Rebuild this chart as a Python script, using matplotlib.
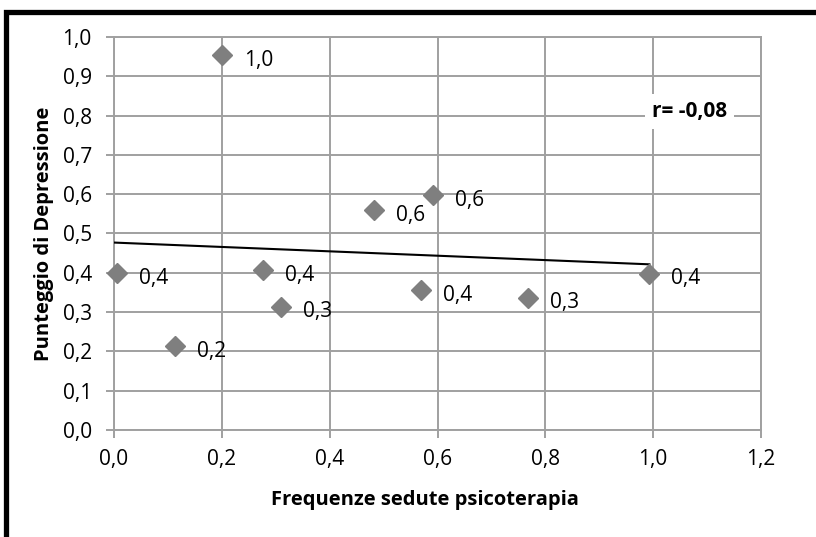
import numpy as np
import matplotlib
matplotlib.use("Agg")
import matplotlib.pyplot as plt
from matplotlib.ticker import FuncFormatter, MultipleLocator
from matplotlib.lines import Line2D

# Data
freq = [0.006, 0.113, 0.201, 0.277, 0.309, 0.482, 0.569, 0.592, 0.767, 0.993]
depr = [0.399, 0.213, 0.954, 0.406, 0.313, 0.559, 0.355, 0.597, 0.336, 0.397]
x_label = "Frequenze sedute psicoterapia"
y_label = "Punteggio di Depressione"
r_text = "r= -0,08"

plt.rcParams['font.family'] = ['Open Sans', 'DejaVu Sans']

W, H = 816, 537
fig = plt.figure(figsize=(W / 100, H / 100), dpi=100)
ax = fig.add_axes([114 / W, 1 - 430 / H, (761 - 114) / W, (430 - 37) / H])

grid_c = '#a0a0a0'
ax.set_xlim(0, 1.2)
ax.set_ylim(0, 1.0)
ax.xaxis.set_major_locator(MultipleLocator(0.2))
ax.yaxis.set_major_locator(MultipleLocator(0.1))
fmt = FuncFormatter(lambda v, p: f"{v:.1f}".replace('.', ','))
ax.xaxis.set_major_formatter(fmt)
ax.yaxis.set_major_formatter(fmt)
ax.grid(True, color=grid_c, linewidth=1.4, zorder=0)
ax.set_axisbelow(True)
for s in ax.spines.values():
    s.set_color(grid_c)
    s.set_linewidth(1.4)
ax.tick_params(axis='both', direction='out', length=6, width=1.4, color=grid_c,
               labelsize=15, labelcolor='black')
ax.tick_params(axis='y', pad=10)
ax.tick_params(axis='x', pad=8)

# trendline
xs = np.array(freq)
ys = np.array(depr)
m, b = np.polyfit(xs, ys, 1)
xl = np.array([0.0, xs.max()])
ax.plot(xl, m * xl + b, color='black', linewidth=1.5, zorder=3)

# points
ax.plot(freq, depr, linestyle='none', marker='D', markersize=10,
        color='#7f7f7f', markeredgecolor='#7f7f7f', zorder=4, clip_on=False)

for x, y in zip(freq, depr):
    ax.annotate(f"{y:.1f}".replace('.', ','), (x, y), xytext=(22, -5),
                textcoords='offset pixels', ha='left', va='center',
                fontsize=15, color='black', zorder=5)

ax.text(1.067, 0.81, r_text, ha='center', va='center', fontsize=15,
        fontweight='bold', zorder=6,
        bbox=dict(facecolor='white', edgecolor='none', pad=5))

ax.set_xlabel(x_label, fontsize=14.5, fontweight='bold')
ax.set_ylabel(y_label, fontsize=14.5, fontweight='bold')
ax.xaxis.set_label_coords((425 - 114) / (761 - 114), -(500 - 430) / (430 - 37))
ax.yaxis.set_label_coords(-(114 - 44) / (761 - 114), 0.5)
ax.xaxis.label.set_va('center')
ax.yaxis.label.set_va('center')

# outer thick border (partially visible)
fig.add_artist(Line2D([6 / W, 6 / W, 1.05], [-0.05, 1 - 11.7 / H, 1 - 11.7 / H],
                      transform=fig.transFigure, color='black', linewidth=3.8,
                      solid_joinstyle='miter'))

fig.savefig('out.png', dpi=100)
